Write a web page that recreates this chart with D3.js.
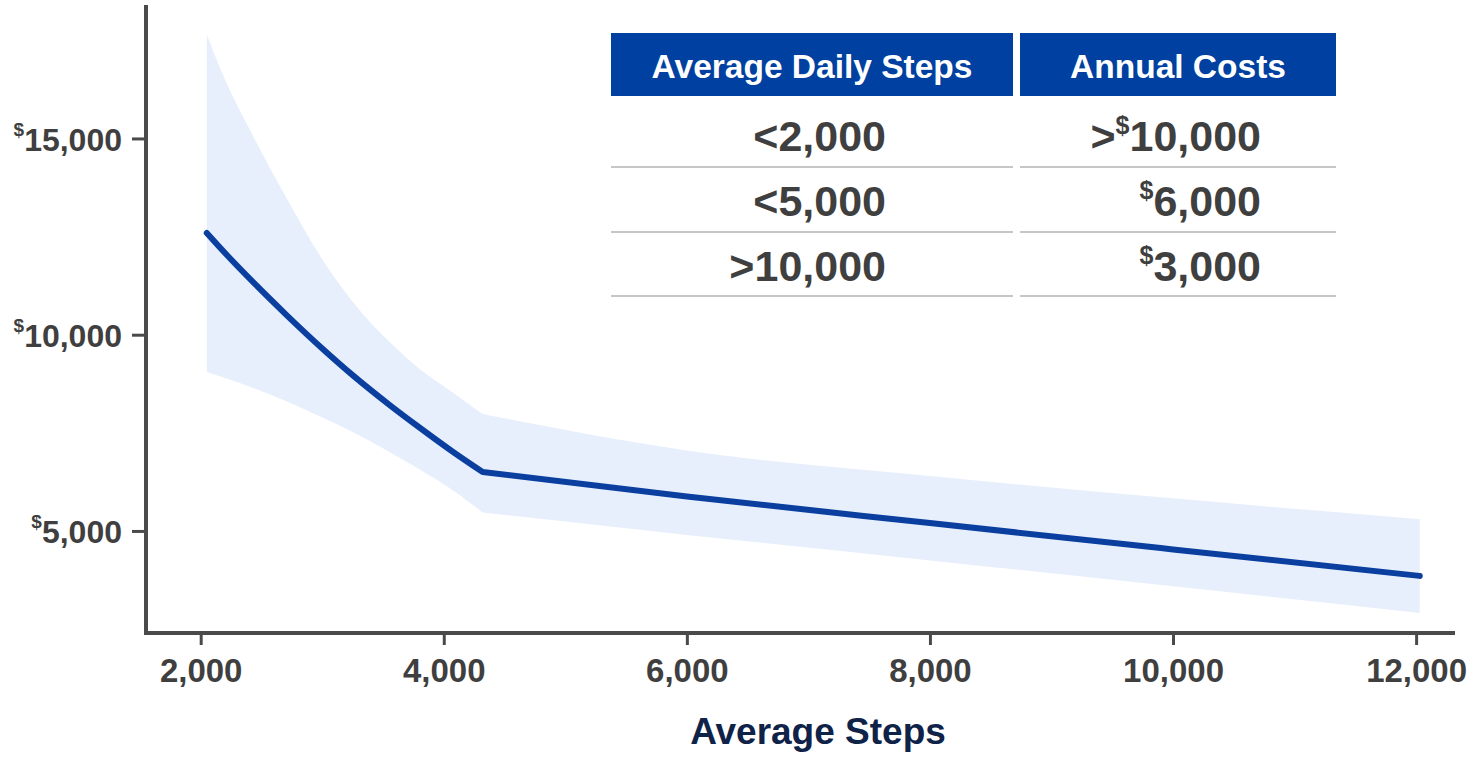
<html>
<head>
<meta charset="utf-8">
<style>
  body { margin: 0; background: #ffffff; }
  svg text { font-family: Arial, "Liberation Sans", sans-serif; font-weight: bold; }
</style>
</head>
<body>
<div id="chartContainer"></div>
<script src="https://cdnjs.cloudflare.com/ajax/libs/d3/7.8.5/d3.min.js"></script>
<script>
  "use strict";
  // values (steps per day vs annual cost)
  var steps     = [2050, 2200, 2450, 2700, 3000, 3250, 3550, 3800, 4080, 4320, 6000, 8000, 10000, 12030];
  var avgCost   = [12590, 12080, 11280, 10520, 9650, 8970, 8220, 7635, 7005, 6500, 5880, 5200, 4530, 3854];
  var upperCost = [17650, 16500, 14950, 13515, 11920, 10840, 9825, 9130, 8515, 7980, 7050, 6400, 5830, 5300];
  var lowerCost = [9050, 8900, 8620, 8310, 7890, 7520, 7020, 6570, 6025, 5470, 4900, 4250, 3590, 2910];
  var elbow = 9; // index where the curve turns into the long flat part

  var xTicks = [2000, 4000, 6000, 8000, 10000, 12000];
  var yTicks = [5000, 10000, 15000];

  // little table in the top right
  var tableHeaders = ["Average Daily Steps", "Annual Costs"];
  var stepRanges = ["<2,000", "<5,000", ">10,000"];
  var costPrefix = [">", "", ""];
  var costValues = ["10,000", "6,000", "3,000"];

  var blue = "#0a3f9f";
  var axisGray = "#4a4a4a";
  var textGray = "#3f3f3f";

  var svg = d3.select("#chartContainer").append("svg")
    .attr("width", 1474).attr("height", 758);

  var x = d3.scaleLinear().domain([1550, 12320]).range([146, 1455]);
  var y = d3.scaleLinear().domain([2400, 18400]).range([633, 5]);

  var rows = steps.map(function (s, i) {
    return { s: s, m: avgCost[i], hi: upperCost[i], lo: lowerCost[i] };
  });
  // two pieces: smooth steep part, then the long gentle part
  var parts = [rows.slice(0, elbow + 1), rows.slice(elbow)];

  // confidence band (both pieces in one path so there is no seam at the elbow)
  var band = d3.area()
    .x(function (d) { return x(d.s); })
    .y0(function (d) { return y(d.lo); })
    .y1(function (d) { return y(d.hi); })
    .curve(d3.curveMonotoneX);
  svg.append("path").attr("d", band(parts[0]) + band(parts[1])).attr("fill", "#e7effd");

  // average line
  var line = d3.line()
    .x(function (d) { return x(d.s); })
    .y(function (d) { return y(d.m); })
    .curve(d3.curveMonotoneX);
  svg.append("path").attr("d", line(parts[0]) + line(parts[1]).replace(/^M/, "L"))
    .attr("fill", "none").attr("stroke", blue).attr("stroke-width", 6)
    .attr("stroke-linecap", "round").attr("stroke-linejoin", "round");

  // y axis
  var gy = svg.append("g").attr("transform", "translate(146,0)")
    .call(d3.axisLeft(y).tickValues(yTicks).tickSize(14).tickSizeOuter(0).tickFormat(function () { return ""; }));
  gy.select(".domain").remove();
  gy.selectAll(".tick line").attr("stroke", axisGray).attr("stroke-width", 3);
  gy.selectAll(".tick text").each(function (d) {
    var t = d3.select(this).attr("x", -24).attr("y", 12).attr("dy", null)
      .attr("fill", textGray).attr("font-size", 32);
    t.append("tspan").attr("font-size", 19).attr("dy", -15).text("$");
    t.append("tspan").attr("dy", 15).text(d3.format(",")(d));
  });

  // x axis
  var gx = svg.append("g").attr("transform", "translate(0,633)")
    .call(d3.axisBottom(x).tickValues(xTicks).tickSize(12).tickSizeOuter(0).tickFormat(d3.format(",")));
  gx.select(".domain").remove();
  gx.selectAll(".tick line").attr("stroke", axisGray).attr("stroke-width", 3);
  gx.selectAll(".tick text").attr("y", 49).attr("dy", null)
    .attr("fill", textGray).attr("font-size", 33);

  // axis lines drawn by hand so the corner closes
  svg.append("line").attr("x1", 146).attr("x2", 146).attr("y1", 5).attr("y2", 635)
    .attr("stroke", axisGray).attr("stroke-width", 4);
  svg.append("line").attr("x1", 144).attr("x2", 1455).attr("y1", 633).attr("y2", 633)
    .attr("stroke", axisGray).attr("stroke-width", 4);

  svg.append("text").attr("x", 818).attr("y", 744).attr("text-anchor", "middle")
    .attr("font-size", 37).attr("fill", "#0f2247").text("Average Steps");

  // table
  var cols = [{ x: 611, w: 402, right: 886 }, { x: 1020, w: 316, right: 1261 }];
  var rowBase = [151, 216, 281];
  var rowLine = [167, 232, 296];

  cols.forEach(function (c, i) {
    svg.append("rect").attr("x", c.x).attr("y", 33).attr("width", c.w).attr("height", 63).attr("fill", "#0040a0");
    svg.append("text").attr("x", c.x + c.w / 2).attr("y", 78).attr("text-anchor", "middle")
      .attr("fill", "#ffffff").attr("font-size", 33.5).text(tableHeaders[i]);
    rowLine.forEach(function (ly) {
      svg.append("line").attr("x1", c.x).attr("x2", c.x + c.w).attr("y1", ly).attr("y2", ly)
        .attr("stroke", "#c6c6c6").attr("stroke-width", 2);
    });
  });

  stepRanges.forEach(function (s, i) {
    svg.append("text").attr("x", cols[0].right).attr("y", rowBase[i]).attr("text-anchor", "end")
      .attr("fill", textGray).attr("font-size", 43).text(s);
  });

  costValues.forEach(function (v, i) {
    var t = svg.append("text").attr("x", cols[1].right).attr("y", rowBase[i]).attr("text-anchor", "end")
      .attr("fill", textGray).attr("font-size", 43);
    if (costPrefix[i]) t.append("tspan").text(costPrefix[i]);
    t.append("tspan").attr("font-size", 25).attr("dy", -17).text("$");
    t.append("tspan").attr("dy", 17).text(v);
  });
</script>
</body>
</html>
